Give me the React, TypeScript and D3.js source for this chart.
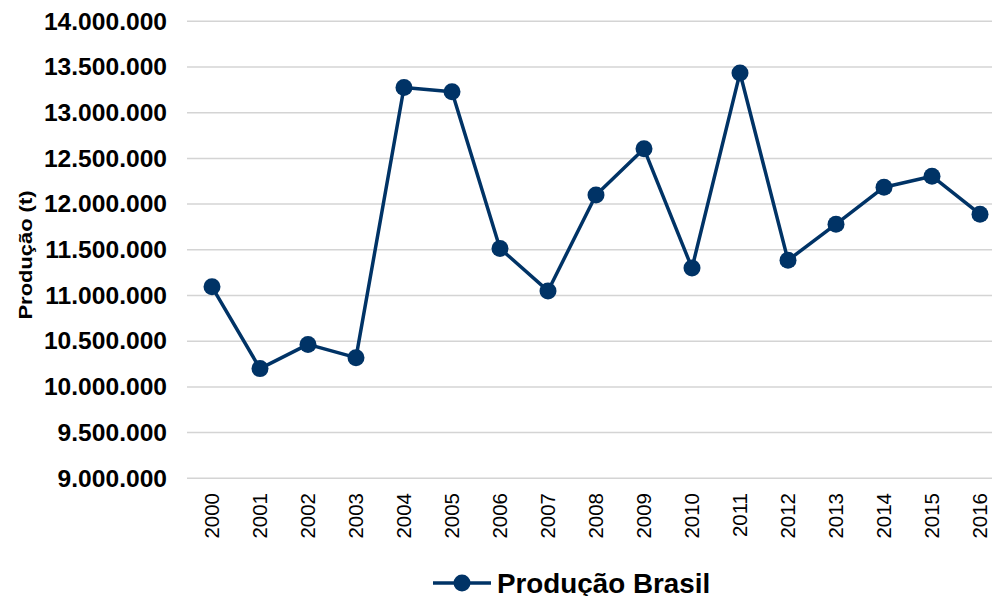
import React, { useEffect, useRef } from "react";
import * as d3 from "d3";

// anos (eixo X)
const years = [
  "2000", "2001", "2002", "2003", "2004", "2005", "2006", "2007", "2008",
  "2009", "2010", "2011", "2012", "2013", "2014", "2015", "2016",
];

// produção em toneladas
const producao = [
  11095000, 10200000, 10465000, 10320000, 13275000, 13230000, 11515000,
  11050000, 12100000, 12605000, 11300000, 13435000, 11385000, 11780000,
  12185000, 12305000, 11890000,
];

const yTicks = [
  9000000, 9500000, 10000000, 10500000, 11000000, 11500000, 12000000,
  12500000, 13000000, 13500000, 14000000,
];

const seriesName = "Produção Brasil";
const yTitle = "Produção (t)";

const W = 992;
const H = 596;
const COLOR = "#003366";
const FONT = "'Liberation Sans', Arial, sans-serif";

export default function App() {
  const svgRef = useRef<SVGSVGElement>(null);

  useEffect(() => {
    const svg = d3.select(svgRef.current);
    svg.selectAll("*").remove();

    const x = d3.scaleBand<string>().domain(years).range([188, 1004]).padding(0);
    const y = d3.scaleLinear().domain([9000000, 14000000]).range([478.3, 21.3]);
    const fmt = (v: number) => d3.format(",")(v).replace(/,/g, ".");
    const cx = (d: string) => (x(d) as number) + x.bandwidth() / 2;

    // linhas de grade
    svg
      .append("g")
      .selectAll("line")
      .data(yTicks)
      .join("line")
      .attr("x1", 187)
      .attr("x2", W)
      .attr("y1", (d) => y(d))
      .attr("y2", (d) => y(d))
      .attr("stroke", "#d4d4d4")
      .attr("stroke-width", 1.5);

    // rótulos do eixo Y (um pouco alargados, como no original)
    svg
      .append("g")
      .selectAll("text")
      .data(yTicks)
      .join("text")
      .attr("transform", (d) => `translate(167,${y(d)}) scale(1.07,1)`)
      .attr("dy", "0.36em")
      .attr("text-anchor", "end")
      .attr("font-family", FONT)
      .attr("font-weight", "bold")
      .attr("font-size", 23)
      .attr("fill", "#000")
      .text(fmt);

    // rótulos do eixo X
    svg
      .append("g")
      .selectAll("text")
      .data(years)
      .join("text")
      .attr("transform", (d) => `translate(${cx(d)},493) rotate(-90)`)
      .attr("dy", "0.36em")
      .attr("text-anchor", "end")
      .attr("font-family", FONT)
      .attr("font-size", 20.5)
      .attr("fill", "#000")
      .text((d) => d);

    // título do eixo Y
    svg
      .append("text")
      .attr("transform", "translate(25,255) rotate(-90)")
      .attr("dy", "0.36em")
      .attr("text-anchor", "middle")
      .attr("font-family", FONT)
      .attr("font-weight", "bold")
      .attr("font-size", 19)
      .attr("textLength", 129)
      .attr("lengthAdjust", "spacingAndGlyphs")
      .attr("fill", "#000")
      .text(yTitle);

    // série
    const pts = years.map((d, i) => [cx(d), y(producao[i])] as [number, number]);
    svg
      .append("path")
      .attr("d", d3.line()(pts))
      .attr("fill", "none")
      .attr("stroke", COLOR)
      .attr("stroke-width", 3.5)
      .attr("stroke-linejoin", "round");

    svg
      .append("g")
      .selectAll("circle")
      .data(pts)
      .join("circle")
      .attr("cx", (d) => d[0])
      .attr("cy", (d) => d[1])
      .attr("r", 8.5)
      .attr("fill", COLOR);

    // legenda
    const lg = svg.append("g");
    lg.append("line")
      .attr("x1", 433)
      .attr("x2", 491)
      .attr("y1", 583)
      .attr("y2", 583)
      .attr("stroke", COLOR)
      .attr("stroke-width", 3.5);
    lg.append("circle").attr("cx", 462).attr("cy", 583).attr("r", 8.5).attr("fill", COLOR);
    lg.append("text")
      .attr("transform", "translate(497,583) scale(1.03,1)")
      .attr("dy", "0.36em")
      .attr("font-family", FONT)
      .attr("font-weight", "bold")
      .attr("font-size", 27)
      .attr("fill", "#000")
      .text(seriesName);
  }, []);

  return (
    <div style={{ position: "absolute", left: 0, top: 0 }}>
      <svg ref={svgRef} width={W} height={H} style={{ display: "block", background: "#fff" }} />
    </div>
  );
}
